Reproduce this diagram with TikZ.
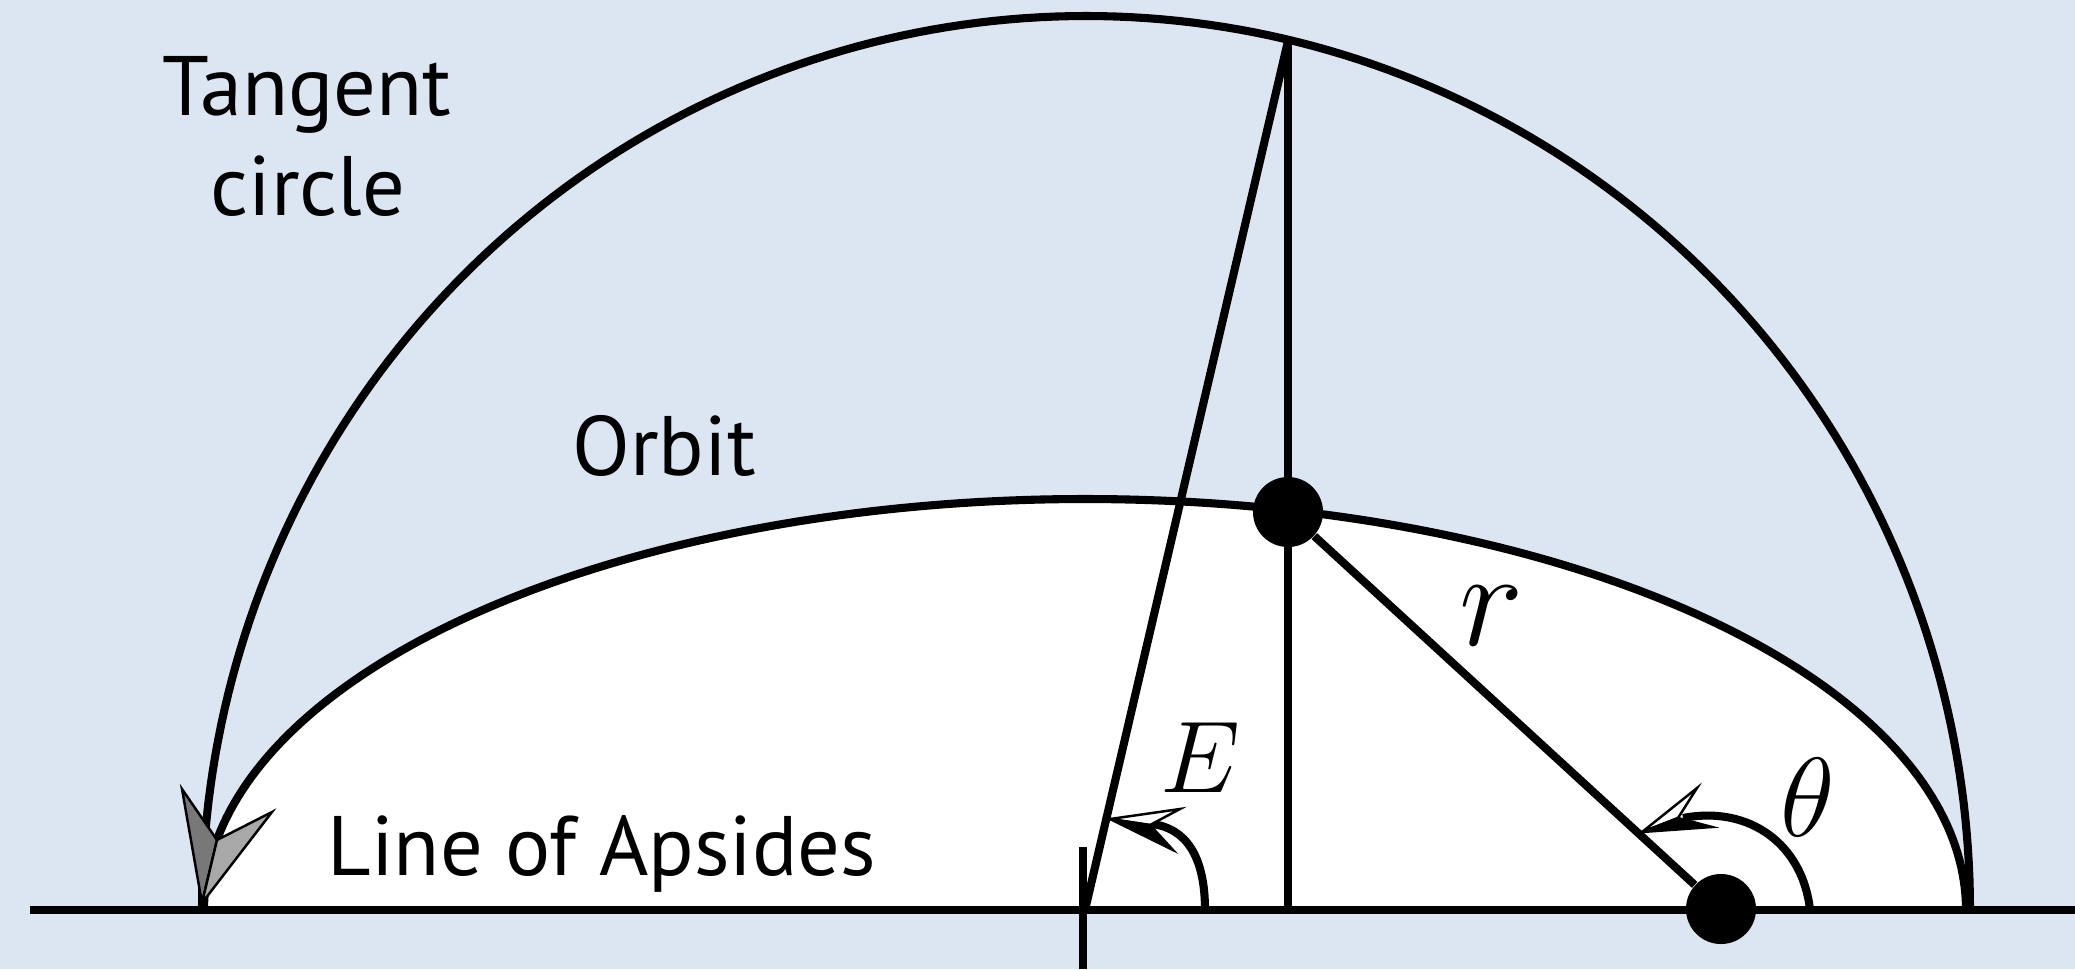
\RequirePackage{fix-cm}
\documentclass[tikz,border=0pt]{standalone}
\usepackage{fontspec}
\setmainfont{PT Sans}
\definecolor{bgblue}{RGB}{220,230,242}
\definecolor{darkhead}{RGB}{120,120,120}
\definecolor{lighthead}{RGB}{168,168,168}
\begin{document}
\begin{tikzpicture}[x=0.01cm,y=-0.01cm,
  thickline/.style={line width=2.3pt},
  dot/.style={circle,fill=black,inner sep=0pt,minimum size=0.7cm},
  lbl/.style={anchor=base,inner sep=0pt,font=\fontsize{24}{28}\selectfont},
  mlbl/.style={inner sep=0pt},
  headout/.style={line width=0.7pt,line join=miter}]
\useasboundingbox (0,0) rectangle (2075,969);
\fill[bgblue] (0,0) rectangle (2075,969);
% orbit interior
\fill[white] plot[domain=0:180,samples=181] ({1085+881*cos(\x)},{910-411*sin(\x)}) -- cycle;
% named points
\coordinate (C) at (1085,910);
\coordinate (Q) at (1288,41);
\coordinate (A) at (1288,910);
\coordinate (Lstart) at (30,910);
\coordinate (Lend) at (2075,910);
\coordinate (Ttop) at (1083,847);
\coordinate (Tbot) at (1083,969);
\node[dot] (P) at (1288,512) {};
\node[dot] (F) at (1721,909) {};
% tangent circle and orbit
\draw[thickline] plot[domain=0:180,samples=181] ({1086+884*cos(\x)},{910-894*sin(\x)});
\draw[thickline] plot[domain=0:180,samples=181] ({1085+881*cos(\x)},{910-411*sin(\x)});
% line of apsides and tick
\draw[thickline] (Lstart) -- (Lend);
\draw[thickline] (Ttop) -- (Tbot);
% construction lines
\draw[thickline] (A) -- (Q);
\draw[thickline] (C) -- (Q);
\draw[thickline] (F) -- (P);
% angle E
\draw[thickline] (1205,910) .. controls (1205,855) and (1185,828) .. (1152,824);
\filldraw[fill=white,headout] (1110,819) -- (1180,809) -- (1150,825) -- cycle;
\filldraw[fill=black,headout] (1110,819) -- (1150,825) -- (1173,850) -- cycle;
% angle theta
\draw[thickline] (1810,910) .. controls (1803,845) and (1750,805) .. (1683,818);
\filldraw[fill=white,headout] (1642,832) -- (1697,788) -- (1678,818) -- cycle;
\filldraw[fill=black,headout] (1642,832) -- (1678,818) -- (1712,827) -- cycle;
% grey arrowhead at left end
\filldraw[fill=darkhead,headout] (202,903) -- (182,789) -- (217,840) -- cycle;
\filldraw[fill=lighthead,headout] (202,903) -- (217,840) -- (272,812) -- cycle;
% labels
\node[lbl] (t1) at (307,115) {Tangent};
\node[lbl] (t2) at (308,215) {circle};
\node[lbl] (orb) at (664,475) {Orbit};
\node[lbl,anchor=base west] (loa) at (327,875) {Line of Apsides};
\node[mlbl] (r) at (1492,616) {\fontsize{39}{44}\selectfont$r$};
\node[mlbl] (E) at (1200,758) {\fontsize{29}{34}\selectfont$E$};
\node[mlbl] (th) at (1808,797) {\fontsize{32}{36}\selectfont$\theta$};
\end{tikzpicture}
\end{document}
